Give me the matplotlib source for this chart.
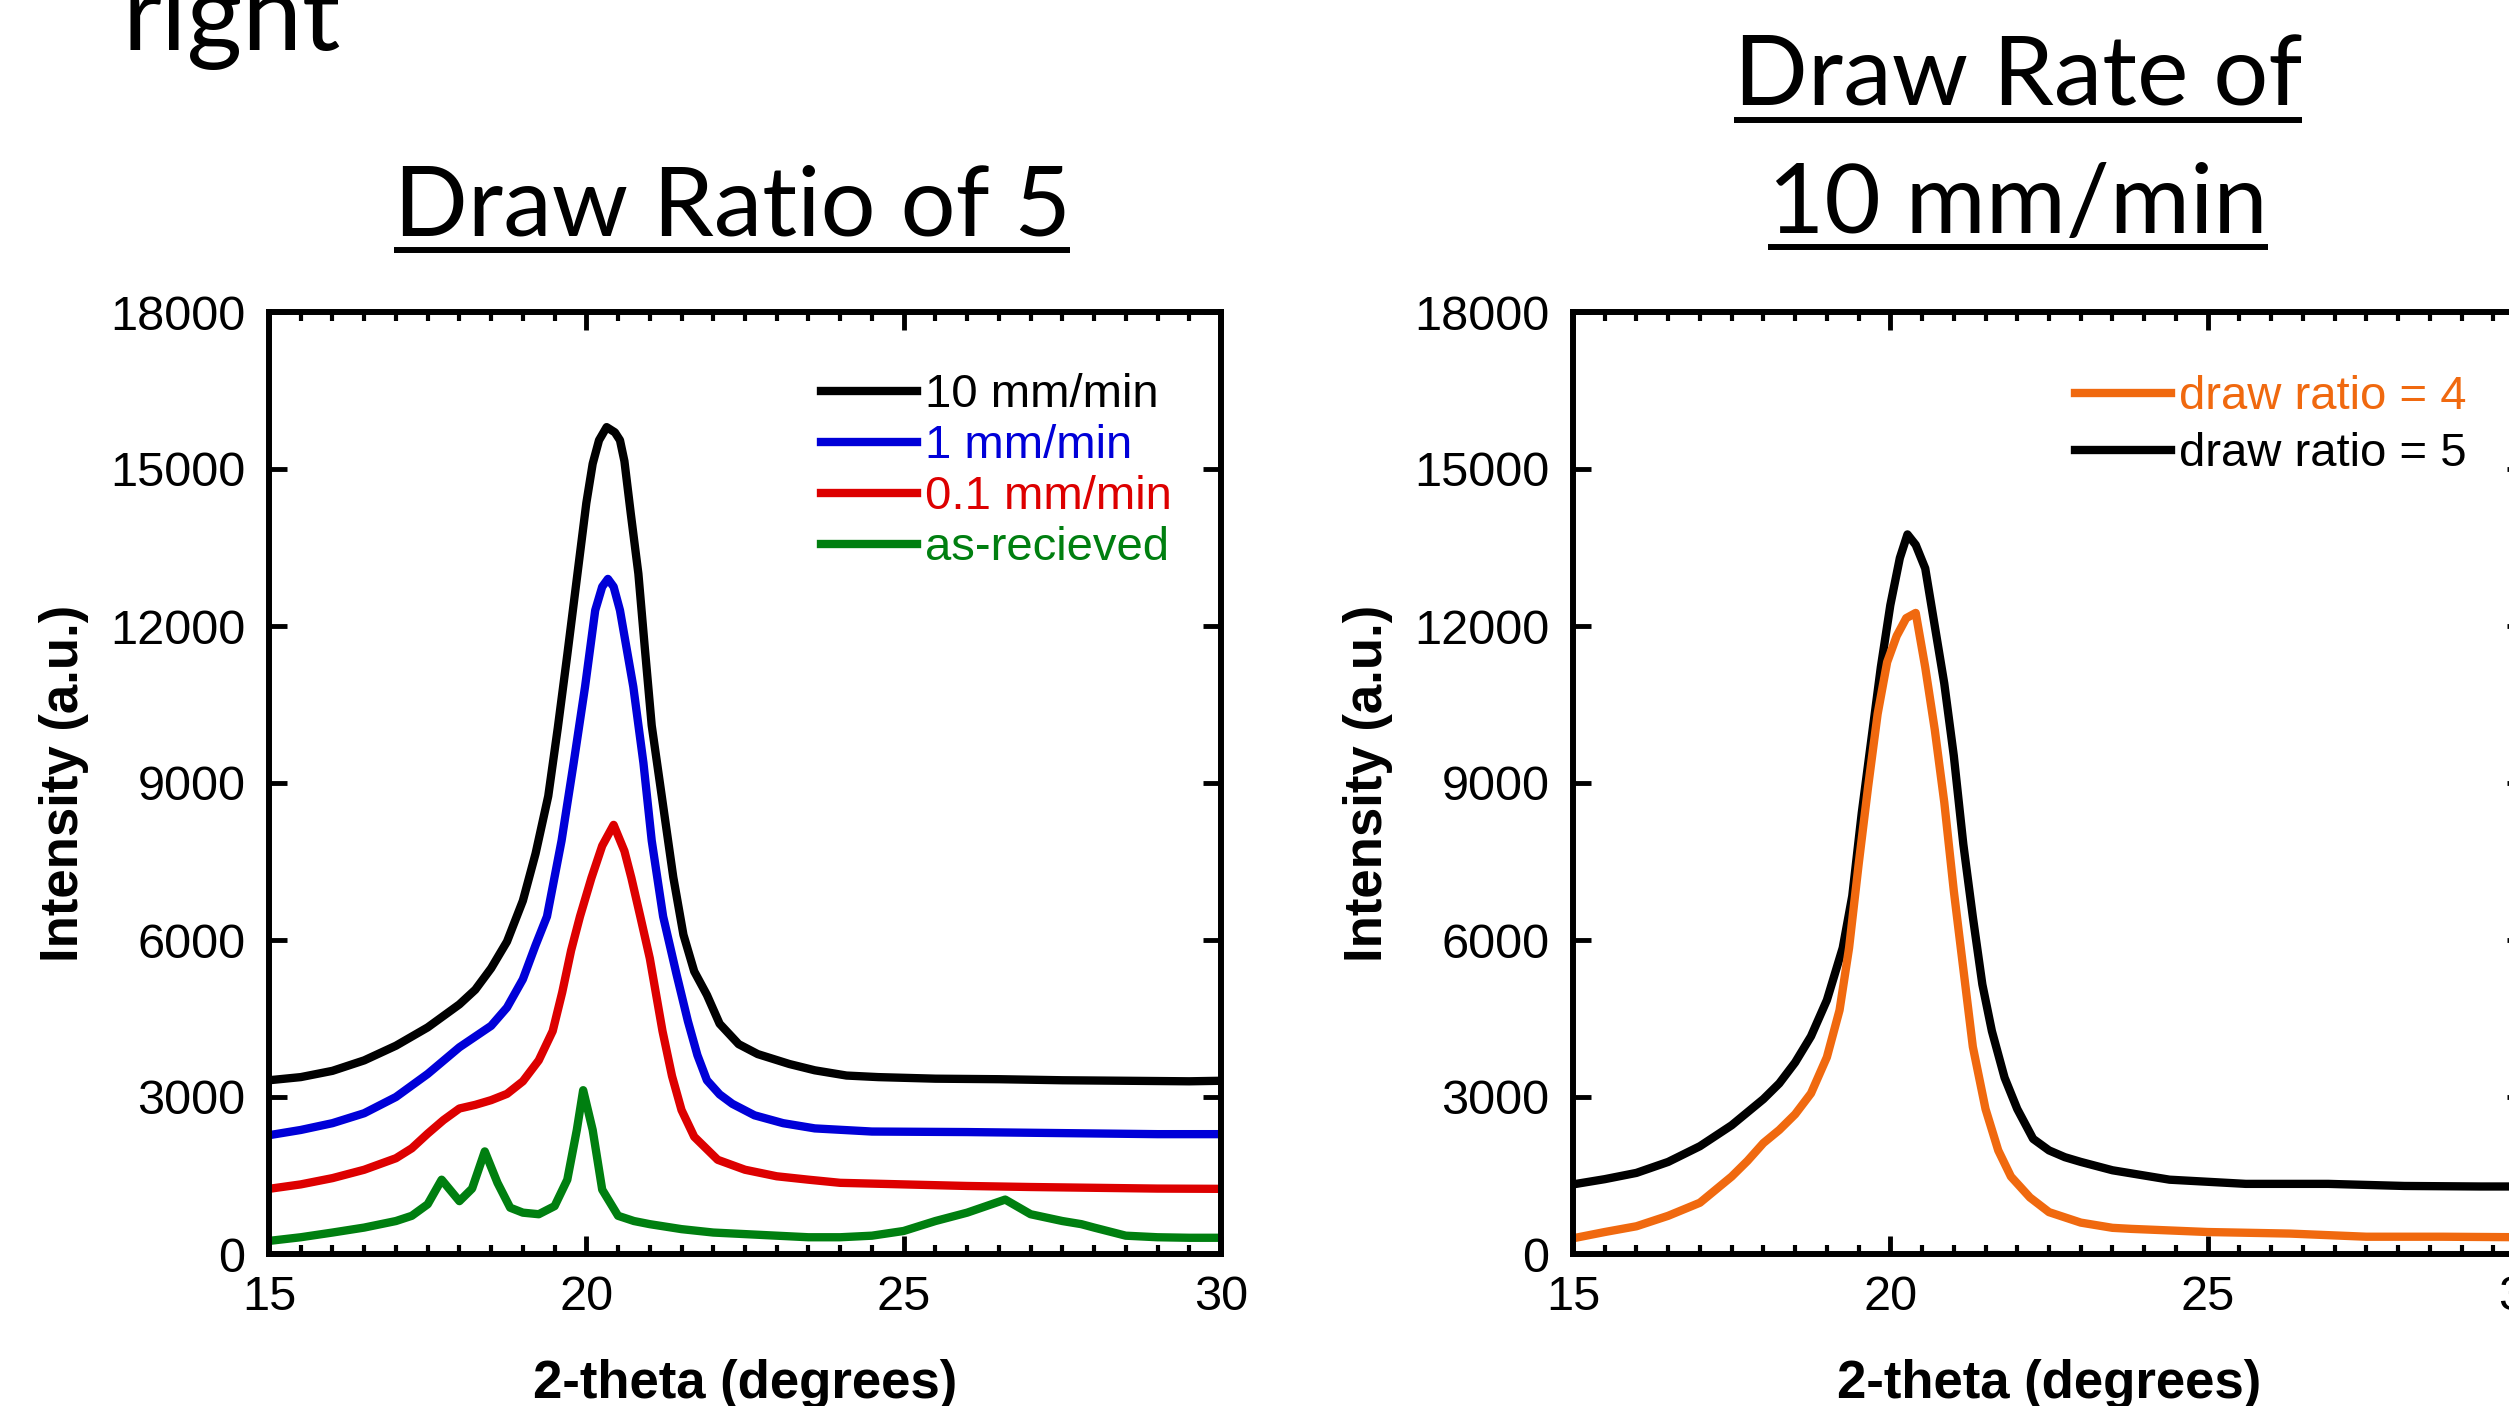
import matplotlib.pyplot as plt
from matplotlib.lines import Line2D
from matplotlib.ticker import MultipleLocator

# ---- left panel: draw ratio of 5, different draw rates ----
x_10mm = [15, 15.5, 16, 16.5, 17, 17.5, 18, 18.25, 18.5, 18.75, 19.0, 19.2, 19.4, 19.55, 19.7,
          19.85, 20.0, 20.1, 20.2, 20.32, 20.45, 20.53, 20.6, 20.7, 20.82, 20.92, 21.03, 21.2, 21.37,
          21.53, 21.7, 21.9, 22.1, 22.4, 22.7, 23.2, 23.6, 24.1, 24.6, 25.5, 26.5, 27.5, 28.5, 29.5, 30]
y_10mm = [3320, 3380, 3500, 3700, 3980, 4330, 4770, 5050, 5460, 5970, 6750, 7650, 8750, 10050, 11450,
          12900, 14350, 15100, 15550, 15800, 15700, 15550, 15150, 14150, 13000, 11600, 10100, 8650, 7200,
          6100, 5400, 4950, 4400, 4010, 3820, 3630, 3510, 3410, 3380, 3350, 3340, 3320, 3310, 3300, 3310]

x_1mm = [15, 15.5, 16, 16.5, 17, 17.5, 18, 18.5, 18.75, 19.0, 19.2, 19.38, 19.61, 19.8, 19.98, 20.14,
         20.25, 20.34, 20.43, 20.53, 20.74, 20.9, 21.03, 21.21, 21.42, 21.6, 21.75, 21.9, 22.1, 22.3,
         22.65, 23.1, 23.6, 24.5, 26, 27.5, 29, 30]
y_1mm = [2270, 2370, 2500, 2690, 3000, 3440, 3950, 4360, 4710, 5250, 5900, 6450, 7900, 9380, 10840, 12300,
         12750, 12900, 12750, 12300, 10840, 9380, 7900, 6450, 5350, 4450, 3800, 3320, 3050, 2870,
         2650, 2500, 2400, 2340, 2330, 2310, 2290, 2290]

x_01mm = [15, 15.5, 16, 16.5, 17, 17.25, 17.5, 17.75, 18, 18.25, 18.5, 18.75, 19.0, 19.25, 19.47,
          19.62, 19.76, 19.9, 20.08, 20.25, 20.43, 20.6, 20.71, 20.85, 21.0, 21.2, 21.35, 21.5, 21.7,
          22.07, 22.5, 23, 23.5, 24, 25, 26, 27, 28, 29, 30]
y_01mm = [1245, 1330, 1450, 1610, 1830, 2020, 2300, 2560, 2780, 2850, 2940, 3060, 3300, 3700, 4260,
          5000, 5800, 6450, 7185, 7800, 8200, 7700, 7185, 6450, 5650, 4260, 3400, 2750, 2240,
          1800, 1610, 1485, 1420, 1360, 1330, 1300, 1280, 1265, 1250, 1245]

x_asrec = [15, 15.5, 16, 16.5, 17, 17.25, 17.5, 17.72, 18.0, 18.2, 18.4, 18.6, 18.8, 19.0, 19.25,
           19.5, 19.7, 19.85, 19.95, 20.1, 20.25, 20.5, 20.75, 21, 21.5, 22, 22.5, 23, 23.5, 24,
           24.5, 25, 25.5, 26, 26.3, 26.6, 27, 27.5, 27.8, 28, 28.5, 29, 29.5, 30]
y_asrec = [250, 320, 410, 505, 630, 730, 950, 1420, 1010, 1250, 1960, 1360, 885, 790, 760,
           915, 1420, 2370, 3130, 2370, 1230, 730, 630, 570, 475, 410, 380, 350, 320, 320,
           350, 440, 630, 790, 915, 1040, 760, 630, 570, 505, 350, 320, 310, 310]

# ---- right panel: draw rate of 10 mm/min, different draw ratios ----
x_dr4 = [15, 15.5, 16, 16.5, 17, 17.5, 17.75, 18, 18.25, 18.5, 18.75, 19.0, 19.2, 19.35, 19.5, 19.65,
         19.8, 19.95, 20.1, 20.25, 20.4, 20.55, 20.7, 20.85, 21.0, 21.15, 21.3, 21.5, 21.7, 21.9,
         22.2, 22.5, 23.0, 23.5, 23.8, 25.0, 26.3, 27.5, 28.7, 30]
y_dr4 = [300, 420, 530, 730, 980, 1480, 1780, 2120, 2370, 2670, 3070, 3760, 4660, 5850, 7440, 8930,
         10320, 11310, 11810, 12150, 12250, 11210, 10020, 8630, 6940, 5450, 3960, 2770, 1980, 1480,
         1080, 800, 600, 500, 480, 420, 390, 330, 330, 320]

x_dr5 = [15, 15.5, 16, 16.5, 17, 17.5, 18, 18.25, 18.5, 18.75, 19.0, 19.25, 19.4, 19.55, 19.7, 19.85,
         20.0, 20.15, 20.27, 20.4, 20.55, 20.7, 20.85, 21.0, 21.15, 21.3, 21.45, 21.6, 21.8, 22.0,
         22.25, 22.5, 22.75, 23.0, 23.5, 24.4, 25.6, 26.9, 28.1, 29.3, 30]
y_dr5 = [1330, 1430, 1550, 1760, 2060, 2460, 2960, 3260, 3660, 4160, 4850, 5850, 6840, 8430, 9820, 11210,
         12400, 13300, 13750, 13550, 13100, 12000, 10900, 9520, 7830, 6440, 5150, 4260, 3370, 2770,
         2200, 1980, 1850, 1760, 1600, 1420, 1340, 1340, 1300, 1290, 1290]

plt.rcParams['font.family'] = ['Liberation Sans', 'DejaVu Sans']

W, H = 2509, 1406
fig = plt.figure(figsize=(W / 100, H / 100), dpi=100)

ax1 = fig.add_axes([269 / W, 1 - 1254 / H, 952 / W, 942 / H])
ax2 = fig.add_axes([1573 / W, 1 - 1254 / H, 952 / W, 942 / H])

LW = 6

ax1.plot(x_10mm, y_10mm, color='black', lw=LW, label='10 mm/min')
ax1.plot(x_1mm, y_1mm, color='#0000d8', lw=LW, label='1 mm/min')
ax1.plot(x_01mm, y_01mm, color='#dd0000', lw=LW, label='0.1 mm/min')
ax1.plot(x_asrec, y_asrec, color='#007f10', lw=LW, label='as-recieved')

ax2.plot(x_dr5, y_dr5, color='black', lw=LW, label='draw ratio = 5')
ax2.plot(x_dr4, y_dr4, color='#f0690f', lw=LW, label='draw ratio = 4')

for ax in (ax1, ax2):
    ax.set_xlim(15, 30)
    ax.set_ylim(0, 18000)
    ax.set_xticks([15, 20, 25, 30])
    ax.set_yticks(range(0, 18001, 3000))
    ax.xaxis.set_minor_locator(MultipleLocator(0.5))
    ax.tick_params(which='both', direction='in', top=True, right=True, labelsize=35)
    ax.tick_params(which='major', length=13, width=3.5)
    ax.tick_params(which='minor', length=6.5, width=3)
    ax.tick_params(axis='x', pad=15)
    ax.tick_params(axis='y', pad=17)
    for s in ax.spines.values():
        s.set_linewidth(4.3)
    ax.set_xlabel('2-theta (degrees)', fontsize=38, fontweight='bold', labelpad=28)
    ax.set_ylabel('Intensity (a.u.)', fontsize=38, fontweight='bold', labelpad=15)

h, l = ax1.get_legend_handles_labels()
ax1.legend(h, l, loc='upper left', bbox_to_anchor=(0.58, 0.935), frameon=False, fontsize=34,
           handlelength=2.03, handletextpad=0.17, labelspacing=0.15, borderpad=0, borderaxespad=0,
           labelcolor='linecolor')
h, l = ax2.get_legend_handles_labels()
ax2.legend(h[::-1], l[::-1], loc='upper left', bbox_to_anchor=(0.527, 0.933), frameon=False, fontsize=34,
           handlelength=2.03, handletextpad=0.17, labelspacing=0.28, borderpad=0, borderaxespad=0,
           labelcolor='linecolor')

# slide text (Calibri-like)
TFONT = 'Lato'
fig.text(122 / W, 1 - 50 / H, 'right', fontsize=77, family=TFONT, ha='left', va='baseline')
titles = [
    ('Draw Ratio of 5', 732, 236),
    ('Draw Rate of', 2018, 106),
    ('10 mm/min', 2018, 233),
]
tobjs = []
for s, xc, yb in titles:
    t = fig.text(xc / W, 1 - yb / H, s, fontsize=70, family=TFONT, ha='center', va='baseline')
    tobjs.append((t, yb))

fig.canvas.draw()
r = fig.canvas.get_renderer()
for t, yb in tobjs:
    bb = t.get_window_extent(r)
    yu = 1 - (yb + 14) / H
    fig.add_artist(Line2D([bb.x0 / W, bb.x1 / W], [yu, yu], transform=fig.transFigure,
                          color='black', lw=4.3, solid_capstyle='butt'))

fig.savefig('out.png', dpi=100)
